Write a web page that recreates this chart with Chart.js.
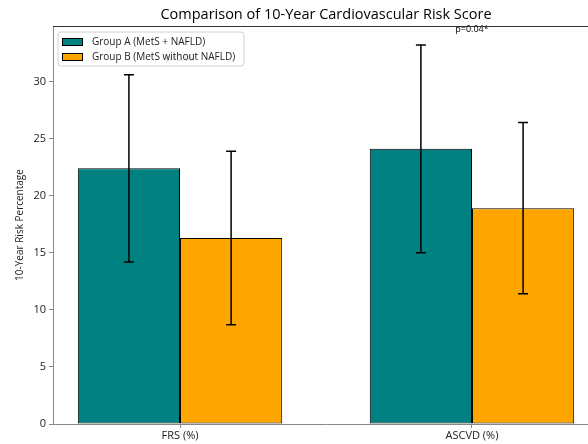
<!DOCTYPE html>
<html>
<head>
<meta charset="utf-8">
<script src="https://cdn.jsdelivr.net/npm/chart.js@4/dist/chart.umd.min.js"></script>
<style>
  html, body { margin: 0; padding: 0; background: #fff; overflow: hidden; }
  #wrap { width: 600px; height: 444px; }
</style>
</head>
<body>
<div id="wrap"><canvas id="risk-chart" width="600" height="444"></canvas></div>
<script>
const categories = ["FRS (%)", "ASCVD (%)"];
const groupAMeans = [22.4, 24.1];
const groupASd = [8.2, 9.1];
const groupBMeans = [16.3, 18.9];
const groupBSd = [7.6, 7.5];
const pValues = ["p=0.06", "p=0.04*"];
const yTicks = [0, 5, 10, 15, 20, 25, 30];

const FONT = "'Open Sans', sans-serif";

// error bars, p-values, legend box, title and top spine
const extrasPlugin = {
  id: "extras",
  afterDatasetsDraw(chart) {
    const { ctx, chartArea } = chart;
    const x = chart.scales.x;
    const y = chart.scales.y;

    ctx.save();
    ctx.strokeStyle = "#000";
    ctx.lineWidth = 1.5;
    chart.data.datasets.forEach((ds, di) => {
      const meta = chart.getDatasetMeta(di);
      ds.data.forEach((pt, i) => {
        const bar = meta.data[i];
        const top = y.getPixelForValue(pt.y + ds.sd[i]);
        const bottom = y.getPixelForValue(pt.y - ds.sd[i]);
        ctx.beginPath();
        ctx.moveTo(bar.x, top);
        ctx.lineTo(bar.x, bottom);
        ctx.moveTo(bar.x - 5, top);
        ctx.lineTo(bar.x + 5, top);
        ctx.moveTo(bar.x - 5, bottom);
        ctx.lineTo(bar.x + 5, bottom);
        ctx.stroke();
      });
    });

    // p-values above the taller error bar
    ctx.fillStyle = "#000";
    ctx.font = "9px " + FONT;
    ctx.textAlign = "center";
    ctx.textBaseline = "bottom";
    categories.forEach((c, i) => {
      const peak = Math.max(groupAMeans[i] + groupASd[i], groupBMeans[i] + groupBSd[i]);
      ctx.fillText(pValues[i], x.getPixelForValue(i), y.getPixelForValue(peak + 1.0));
    });

    // top spine
    ctx.strokeStyle = "#333";
    ctx.lineWidth = 1;
    ctx.beginPath();
    ctx.moveTo(chartArea.left, chartArea.top + 0.5);
    ctx.lineTo(chartArea.right, chartArea.top + 0.5);
    ctx.stroke();

    // title
    ctx.font = "14.5px " + FONT;
    ctx.fillStyle = "#000";
    ctx.textBaseline = "alphabetic";
    ctx.fillText("Comparison of 10-Year Cardiovascular Risk Score",
      (chartArea.left + chartArea.right) / 2, chartArea.top - 7);

    // legend inside the plot
    const lx = chartArea.left + 5, ly = chartArea.top + 6;
    ctx.fillStyle = "rgba(255,255,255,0.8)";
    ctx.strokeStyle = "#d0d0d0";
    ctx.beginPath();
    ctx.roundRect(lx, ly, 186, 34, 3);
    ctx.fill();
    ctx.stroke();
    ctx.font = "10px " + FONT;
    ctx.textAlign = "left";
    ctx.textBaseline = "middle";
    chart.data.datasets.forEach((ds, di) => {
      const ry = ly + 10 + di * 15;
      ctx.fillStyle = ds.backgroundColor;
      ctx.fillRect(lx + 4, ry - 3.5, 20, 7);
      ctx.strokeStyle = "#000";
      ctx.strokeRect(lx + 4.5, ry - 3.5, 20, 7);
      ctx.fillStyle = "#222";
      ctx.fillText(ds.label, lx + 34, ry);
    });
    ctx.restore();
  },
};

new Chart(document.getElementById("risk-chart"), {
  type: "bar",
  data: {
    datasets: [
      {
        label: "Group A (MetS + NAFLD)",
        data: groupAMeans.map((v, i) => ({ x: i, y: v })),
        sd: groupASd,
        backgroundColor: "#008080",
        borderColor: "#000",
        borderWidth: 1,
        borderSkipped: false,
      },
      {
        label: "Group B (MetS without NAFLD)",
        data: groupBMeans.map((v, i) => ({ x: i, y: v })),
        sd: groupBSd,
        backgroundColor: "#FFA500",
        borderColor: "#000",
        borderWidth: 1,
        borderSkipped: false,
      },
    ],
  },
  options: {
    responsive: false,
    animation: false,
    devicePixelRatio: 1,
    layout: { padding: { top: 26, right: 1, left: 0, bottom: 0 } },
    datasets: { bar: { categoryPercentage: 0.7, barPercentage: 1.0 } },
    plugins: { legend: { display: false }, tooltip: { enabled: false } },
    scales: {
      x: {
        type: "linear",
        offset: false,
        min: -0.435,
        max: 1.435,
        afterBuildTicks: (scale) => {
          scale.ticks = categories.map((c, i) => ({ value: i }));
        },
        afterFit: (scale) => { scale.height = 20; },
        ticks: {
          callback: (v) => categories[v],
          color: "#222",
          font: { family: FONT, size: 11 },
          padding: 1,
          maxRotation: 0,
        },
        grid: { drawOnChartArea: false, offset: false, tickLength: 4, color: "#888" },
        border: { color: "#888" },
      },
      y: {
        min: 0,
        max: 34.86,
        afterBuildTicks: (scale) => {
          scale.ticks = yTicks.map((v) => ({ value: v }));
        },
        afterFit: (scale) => { scale.width = 53; },
        ticks: {
          color: "#222",
          font: { family: FONT, size: 11 },
          padding: 3,
        },
        grid: { drawOnChartArea: false, tickLength: 4, color: "#888" },
        border: { color: "#888" },
        title: {
          display: true,
          text: "10-Year Risk Percentage",
          color: "#222",
          font: { family: FONT, size: 10 },
          padding: { top: 14, bottom: 0 },
        },
      },
    },
  },
  plugins: [extrasPlugin],
});
</script>
</body>
</html>
